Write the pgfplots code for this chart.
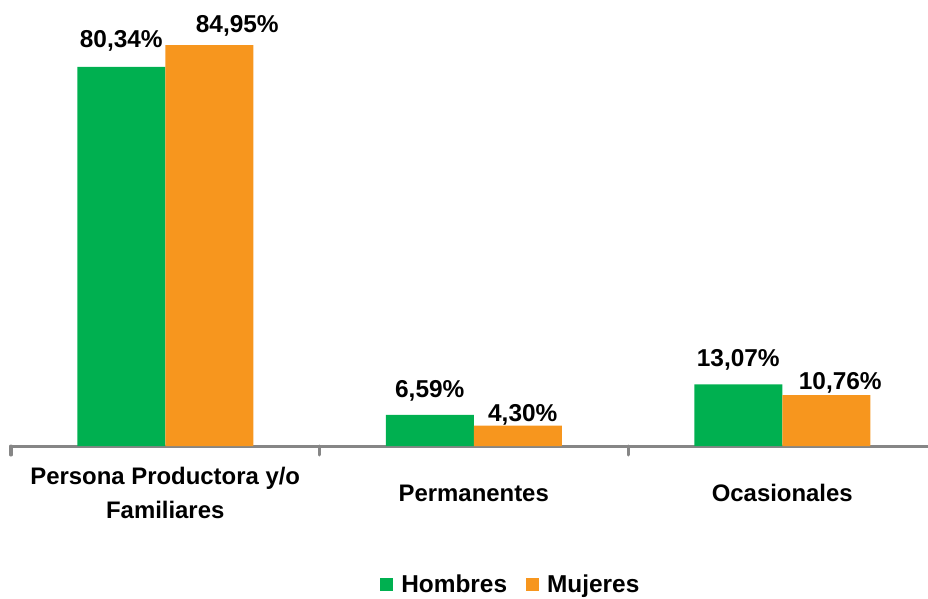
\documentclass[border=0pt]{standalone}
\usepackage{pgfplots}
\pgfplotsset{compat=1.18}
\usepackage{pgfplotstable}
\usepackage{fontspec}
\setmainfont{Liberation Sans}
\definecolor{cgreen}{RGB}{0,176,80}
\definecolor{corange}{RGB}{247,150,30}
\definecolor{caxis}{RGB}{134,134,134}

% \lab{dx}{dy}{text}: label shifted dx bp right, baseline dy bp above bar top
\protected\def\lab#1#2#3{\hspace*{\dimexpr 2\dimexpr #1bp\relax\relax}\raisebox{#2bp}{#3}}

\pgfplotstableread{
x y label
0 80.34 {\lab{0}{19}{80,34\%}}
1 6.59 {\lab{0}{17}{6,59\%}}
2 13.07 {\lab{0}{18}{13,07\%}}
}\hombres
\pgfplotstableread{
x y label
0 84.95 {\lab{28}{13}{84,95\%}}
1 4.30 {\lab{5}{4}{4,30\%}}
2 10.76 {\lab{14}{6}{10,76\%}}
}\mujeres

\pgfplotsset{
  lbl/.style={
    nodes near coords,
    point meta=explicit symbolic,
    every node near coord/.append style={anchor=base, inner sep=0pt,
      font=\fontsize{24.5}{29}\selectfont\bfseries, text=black},
  },
  sqleg/.style={legend image code/.code={\fill[##1] (0bp,-6.5bp) rectangle (13bp,6.5bp);}},
}

\begin{document}
\begin{tikzpicture}
\useasboundingbox (-11bp,-153bp) rectangle (917bp,446bp);
\begin{axis}[
  at={(0,0)}, anchor=south west,
  scale only axis, width=925.5bp, height=424.8bp,
  xmin=-0.5, xmax=2.5, ymin=0, ymax=90,
  clip=false,
  ybar=0pt, bar width=88bp,
  axis y line=none, axis x line*=bottom,
  x axis line style={caxis, line width=3bp},
  tick style={caxis, line width=3bp, line cap=round},
  xtick={0,1,2},
  xticklabels={{Persona Productora y/o\\Familiares},Permanentes,Ocasionales},
  major tick length=0pt,
  extra x ticks={-0.5,0.5,1.5,2.5},
  extra x tick labels={},
  extra x tick style={major tick length=9bp, tick align=outside},
  xticklabel style={align=center, anchor=center, yshift=-47bp,
    font=\fontsize{24}{35}\selectfont\bfseries},
  legend style={at={(0.539,-0.325)}, anchor=center, draw=none, fill=none,
    legend columns=2, font=\fontsize{24.5}{29}\selectfont\bfseries,
    nodes={inner sep=0pt},
    /tikz/every odd column/.append style={column sep=8bp},
    /tikz/every even column/.append style={column sep=19bp}},
]
\addplot[fill=cgreen, draw=none, lbl, sqleg] table[x=x, y=y, meta=label]{\hombres};
\addplot[fill=corange, draw=none, lbl, sqleg] table[x=x, y=y, meta=label]{\mujeres};
\legend{Hombres, Mujeres}
\end{axis}
\end{tikzpicture}
\end{document}
